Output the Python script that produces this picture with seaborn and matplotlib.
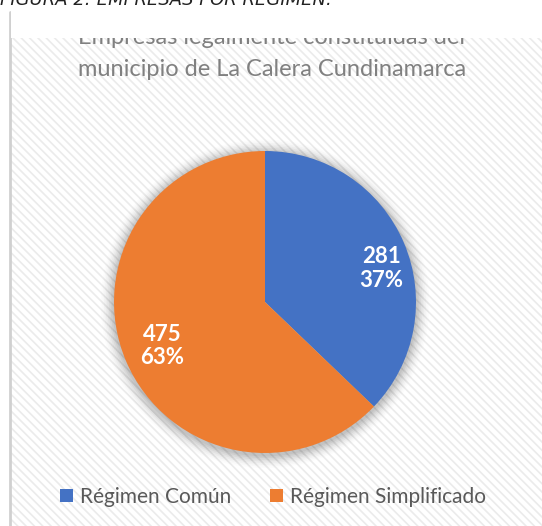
import numpy as np
import matplotlib
matplotlib.use('Agg')
import matplotlib.pyplot as plt
import seaborn as sns
from matplotlib.patches import Rectangle, Circle, Patch

# Datos
categorias = ['Régimen Común', 'Régimen Simplificado']
empresas = [281, 475]
colores = ['#4472C4', '#ED7D31']
titulo = ['Empresas legalmente constituidas del', 'municipio de La Calera Cundinamarca']
leyenda_pie = 'FIGURA 2: EMPRESAS POR RÉGIMEN.'

sns.set_theme(style='white')
plt.rcParams['font.family'] = ['Lato', 'DejaVu Sans']
plt.rcParams['hatch.linewidth'] = 1.2
plt.rcParams['hatch.color'] = '#ebebeb'

W, H = 542, 526
fig = plt.figure(figsize=(W / 100, H / 100), dpi=100)
fig.patch.set_facecolor('white')

def fx(px):
    return px / W

def fy(py):
    return 1 - py / H

# fondo rayado del grafico
fondo = Rectangle((fx(10), 0), 1 - fx(10), fy(38), transform=fig.transFigure,
                  facecolor='white', edgecolor='#ebebeb', hatch='\\\\\\\\', lw=0, zorder=-2)
fig.patches.append(fondo)
# borde izquierdo
fig.add_artist(plt.Line2D([fx(10), fx(10)], [0, fy(12)], transform=fig.transFigure,
                          color='#d0d0d0', lw=2, zorder=-1))

# titulo (primera linea tapada arriba)
for linea, base in zip(titulo, [44, 76]):
    fig.text(fx(272), fy(base), linea, ha='center', va='baseline', fontsize=17,
             color='#808080', zorder=2)
tapa = Rectangle((fx(11), fy(38)), 1, 1, transform=fig.transFigure,
                 facecolor='white', lw=0, zorder=3)
fig.patches.append(tapa)
fig.text(fx(0), fy(5), leyenda_pie, ha='left', va='baseline', fontsize=13,
         style='italic', color='#222222', family='DejaVu Sans', zorder=4)

# pastel
cx, cy, r = 265, 302, 151
ax = fig.add_axes([fx(cx - r), fy(cy + r), 2 * r / W, 2 * r / H])
ax.set_zorder(1)
ax.patch.set_alpha(0)

# sombra suave
for i, a in enumerate(np.linspace(0.05, 0.012, 8)):
    ax.add_patch(Circle((0.0, -0.012), 1.0 + 0.011 * (i + 1), color='black',
                        alpha=a, lw=0, zorder=0, clip_on=False))

total = sum(empresas)

def etiqueta(pct):
    val = int(round(pct * total / 100))
    return f'{val}\n{pct:.0f}%'

wedges, textos, autotextos = ax.pie(
    empresas, colors=colores, startangle=90, counterclock=False,
    radius=1, autopct=etiqueta, pctdistance=0.74,
    wedgeprops=dict(lw=0), textprops=dict(color='white', fontsize=16,
                                          fontweight='bold', linespacing=1.15))
for w in wedges:
    w.set_zorder(2)
for t in autotextos:
    t.set_zorder(3)

# ajuste de la etiqueta azul (como en Excel, algo mas abajo y afuera)
w0 = wedges[0]
ang = np.deg2rad((w0.theta1 + w0.theta2) / 2 - 7)
autotextos[0].set_position((0.80 * np.cos(ang), 0.80 * np.sin(ang)))

ax.set_xlim(-1, 1)
ax.set_ylim(-1, 1)
ax.set_aspect('equal')
ax.axis('off')

# leyenda
manijas = [Patch(facecolor=c, edgecolor='none') for c in colores]
leg = fig.legend(manijas, categorias, loc='center', bbox_to_anchor=(fx(273), fy(497)),
                 ncol=2, frameon=False, fontsize=15, labelcolor='#595959',
                 handlelength=0.62, handleheight=0.62, handletextpad=0.3,
                 columnspacing=1.9)
leg.set_zorder(5)

fig.savefig('out.png', dpi=100, facecolor='white')
